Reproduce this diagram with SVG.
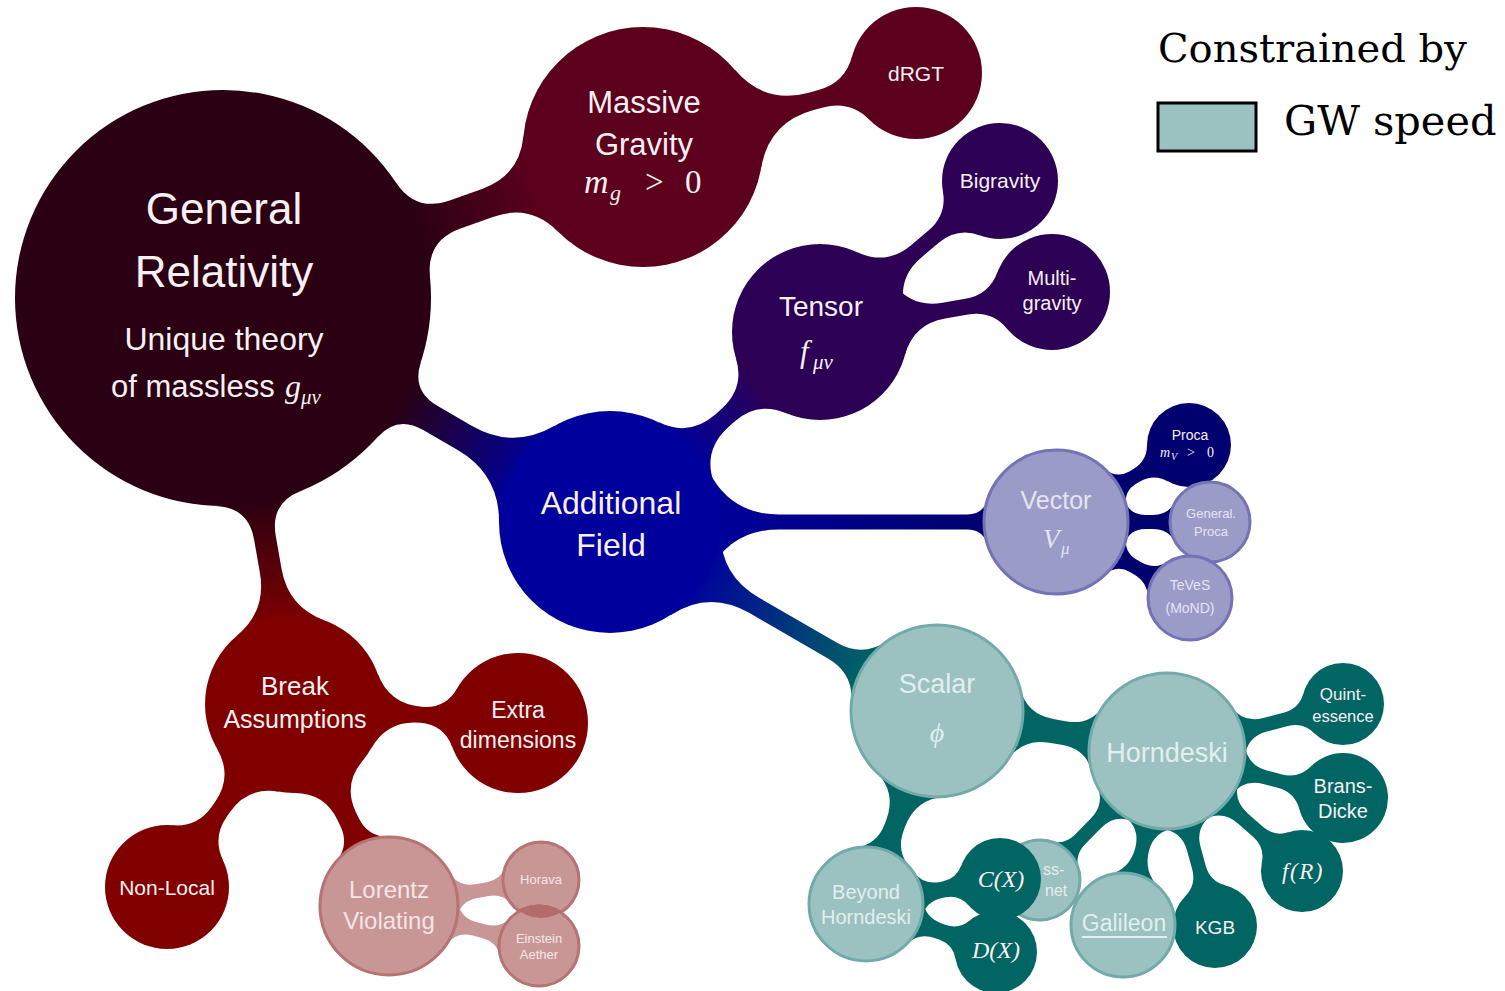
<svg xmlns="http://www.w3.org/2000/svg" width="1505" height="991" viewBox="0 0 1505 991">
<defs>
<style>
.s{font-family:"Liberation Sans",Arial,sans-serif;text-anchor:middle;fill:#f8f0f2}
.a{font-family:"Liberation Sans",Arial,sans-serif;fill:#f8f0f2}
.m{font-family:"Liberation Serif","Times New Roman",serif;font-style:italic;fill:#f8f0f2}
.u{font-family:"Liberation Serif","Times New Roman",serif;font-style:normal;fill:#f8f0f2}
.lt{fill:#e2efee}
.lv{fill:#e4e4f3}
.lr{fill:#f4e6e6}
.cT{fill:#9bc2c1;stroke:#72aaa9;stroke-width:3}
.cV{fill:#9b9bc7;stroke:#7373b5;stroke-width:3}
.cR{fill:#c99696;stroke:#b77272;stroke-width:3}
.leg{font-family:"DejaVu Serif",serif;fill:#000}
.kGR{fill:#2a0012}.kMG{fill:#5d001e}.kAF{fill:#00009c}.kT{fill:#2c0055}
.kN{fill:#00006e}.kS{fill:#006563}.kB{fill:#800000}.kL{fill:#c99696}
</style>
<linearGradient id="gGM"><stop offset="0" stop-color="#2a0012"/><stop offset="1" stop-color="#5d001e"/></linearGradient>
<linearGradient id="gGA"><stop offset="0" stop-color="#2a0012"/><stop offset="1" stop-color="#00009c"/></linearGradient>
<linearGradient id="gGB"><stop offset="0" stop-color="#2a0012"/><stop offset="1" stop-color="#800000"/></linearGradient>
<linearGradient id="gAT"><stop offset="0" stop-color="#00009c"/><stop offset="1" stop-color="#2c0055"/></linearGradient>
<linearGradient id="gAV"><stop offset="0" stop-color="#00009c"/><stop offset="1" stop-color="#00006e"/></linearGradient>
<linearGradient id="gAS"><stop offset="0" stop-color="#00009c"/><stop offset="1" stop-color="#006563"/></linearGradient>
<clipPath id="clipH"><circle cx="541" cy="880" r="38"/></clipPath>
</defs>
<rect width="1505" height="991" fill="#fff"/>

<g id="connectors">
<path fill="url(#gGM)" transform="translate(223,298) rotate(-19.78)" d="M201.8,-50.3 Q210.6,-15 247,-15 L281.4,-15 Q320.8,-15 337.5,-50.7 L337.5,50.7 Q320.8,15 281.4,15 L247,15 Q210.6,15 201.8,50.3 Z"/>
<path class="kMG" transform="translate(643,147) rotate(-15.17)" d="M108.8,-50.7 Q128.3,-9 174.3,-9 L184.2,-9 Q211.9,-9 225.7,-33 L225.7,33 Q211.9,9 184.2,9 L174.3,9 Q128.3,9 108.8,50.7 Z"/>
<path fill="url(#gGA)" transform="translate(223,298) rotate(30.06)" d="M203.5,-43.2 Q209.7,-14 239.5,-14 L279.2,-14 Q327.1,-14 351.1,-55.5 L351.1,55.5 Q327.1,14 279.2,14 L239.5,14 Q209.7,14 203.5,43.2 Z"/>
<path fill="url(#gGB)" transform="translate(223,298) rotate(80.08)" d="M203.5,-43.2 Q210.3,-11 243.2,-11 L277.1,-11 Q315.8,-11 335.1,-44.5 L335.1,44.5 Q315.8,11 277.1,11 L243.2,11 Q210.3,11 203.5,43.2 Z"/>
<path fill="url(#gAT)" transform="translate(610,522) rotate(-42.14)" d="M102.9,-41.6 Q116.1,-9 151.3,-9 L159.1,-9 Q190.2,-9 203.4,-37.2 L203.4,37.2 Q190.2,9 159.1,9 L151.3,9 Q116.1,9 102.9,41.6 Z"/>
<path class="kT" transform="translate(820,332) rotate(-40)" d="M79.8,-37.2 Q93.4,-8 125.6,-8 L148.3,-8 Q172.6,-8 184.8,-29 L184.8,29 Q172.6,8 148.3,8 L125.6,8 Q93.4,8 79.8,37.2 Z"/>
<path class="kT" transform="translate(820,332) rotate(-9.78)" d="M79.8,-37.2 Q93.4,-8 125.6,-8 L148.8,-8 Q173.1,-8 185.2,-29 L185.2,29 Q173.1,8 148.8,8 L125.6,8 Q93.4,8 79.8,37.2 Z"/>
<path fill="url(#gAV)" transform="translate(610,522)" d="M98.9,-50.4 Q120.7,-7.5 168.8,-7.5 L357.2,-7.5 Q372.7,-7.5 377.5,-22.2 L377.5,22.2 Q372.7,7.5 357.2,7.5 L168.8,7.5 Q120.7,7.5 98.9,50.4 Z"/>
<path fill="url(#gAS)" transform="translate(610,522) rotate(30.03)" d="M98.9,-50.4 Q120,-9 166.5,-9 L257,-9 Q287.1,-9 299.8,-36.3 L299.8,36.3 Q287.1,9 257,9 L166.5,9 Q120,9 98.9,50.4 Z"/>
<path class="kN" transform="translate(1056,522) rotate(-30.07)" d="M68.5,-22.2 Q73.4,-7 89.4,-7 L93,-7 Q109.2,-7 117.3,-21 L117.3,21 Q109.2,7 93,7 L89.4,7 Q73.4,7 68.5,22.2 Z"/>
<path class="kN" transform="translate(1056,522)" d="M68.5,-22.2 Q73.4,-7 89.4,-7 L96.9,-7 Q111.9,-7 119.4,-20 L119.4,20 Q111.9,7 96.9,7 L89.4,7 Q73.4,7 68.5,22.2 Z"/>
<path class="kN" transform="translate(1056,522) rotate(29.56)" d="M68.5,-22.2 Q73.4,-7 89.4,-7 L93.4,-7 Q109.6,-7 117.7,-21 L117.7,21 Q109.6,7 93.4,7 L89.4,7 Q73.4,7 68.5,22.2 Z"/>
<path class="kS" transform="translate(937,711) rotate(9.87)" d="M77.9,-36.3 Q89.2,-12 116,-12 L129.8,-12 Q153,-12 162.8,-33 L162.8,33 Q153,12 129.8,12 L116,12 Q89.2,12 77.9,36.3 Z"/>
<path class="kS" transform="translate(937,711) rotate(110.2)" d="M77.9,-36.3 Q90.2,-10 119.2,-10 L124.2,-10 Q145.5,-10 156.2,-28.5 L156.2,28.5 Q145.5,10 124.2,10 L119.2,10 Q90.2,10 77.9,36.3 Z"/>
<path class="kS" transform="translate(1167,751) rotate(-14.95)" d="M73.3,-26.7 Q80.5,-7 101.5,-7 L123.3,-7 Q138.9,-7 146.7,-20.5 L146.7,20.5 Q138.9,7 123.3,7 L101.5,7 Q80.5,7 73.3,26.7 Z"/>
<path class="kS" transform="translate(1167,751) rotate(14.95)" d="M73.3,-26.7 Q80.5,-7 101.5,-7 L116.4,-7 Q134.3,-7 143.2,-22.5 L143.2,22.5 Q134.3,7 116.4,7 L101.5,7 Q80.5,7 73.3,26.7 Z"/>
<path class="kS" transform="translate(1167,751) rotate(41.63)" d="M73.3,-26.7 Q80.5,-7 101.5,-7 L121.7,-7 Q137.3,-7 145.1,-20.5 L145.1,20.5 Q137.3,7 121.7,7 L101.5,7 Q80.5,7 73.3,26.7 Z"/>
<path class="kS" transform="translate(1167,751) rotate(74.66)" d="M73.3,-26.7 Q80.5,-7 101.5,-7 L120.8,-7 Q137,-7 145.1,-21 L145.1,21 Q137,7 120.8,7 L101.5,7 Q80.5,7 73.3,26.7 Z"/>
<path class="kS" transform="translate(1167,751) rotate(104.19)" d="M73.3,-26.7 Q80.5,-7 101.5,-7 L101.5,-7 Q123.5,-7 134.5,-26 L134.5,26 Q123.5,7 101.5,7 L101.5,7 Q80.5,7 73.3,26.7 Z"/>
<path class="kS" transform="translate(1167,751) rotate(134.55)" d="M73.3,-26.7 Q80.5,-7 101.5,-7 L123.9,-7 Q138.9,-7 146.4,-20 L146.4,20 Q138.9,7 123.9,7 L101.5,7 Q80.5,7 73.3,26.7 Z"/>
<path class="kS" transform="translate(866,904) rotate(-10.57)" d="M51.7,-24.1 Q59.2,-8 77,-8 L79.2,-8 Q93.6,-8 100.8,-20.5 L100.8,20.5 Q93.6,8 79.2,8 L77,8 Q59.2,8 51.7,24.1 Z"/>
<path class="kS" transform="translate(866,904) rotate(20.26)" d="M51.7,-24.1 Q59.2,-8 77,-8 L81.5,-8 Q95.9,-8 103.1,-20.5 L103.1,20.5 Q95.9,8 81.5,8 L77,8 Q59.2,8 51.7,24.1 Z"/>
<path class="kB" transform="translate(294,704) rotate(4.85)" d="M80.7,-37.6 Q94.5,-8 127.1,-8 L127.5,-8 Q151.3,-8 161.4,-29.6 L161.4,29.6 Q151.3,8 127.5,8 L127.1,8 Q94.5,8 80.7,37.6 Z"/>
<path class="kB" transform="translate(294,704) rotate(124.76)" d="M80.7,-37.6 Q94,-9 125.5,-9 L131,-9 Q156.4,-9 169.1,-31 L169.1,31 Q156.4,9 131,9 L125.5,9 Q94,9 80.7,37.6 Z"/>
<path class="kB" transform="translate(294,704) rotate(64.81)" d="M80.7,-37.6 Q93.6,-10 124,-10 L130.5,-10 Q151.7,-10 160.7,-29.2 L160.7,29.2 Q151.7,10 130.5,10 L124,10 Q93.6,10 80.7,37.6 Z"/>
<path class="kL" transform="translate(389,906) rotate(-9.71)" d="M64.8,-23.6 Q70.9,-7 88.6,-7 L100.5,-7 Q114.4,-7 121.3,-19 L121.3,19 Q114.4,7 100.5,7 L88.6,7 Q70.9,7 64.8,23.6 Z"/>
<path class="kL" transform="translate(389,906) rotate(14.93)" d="M64.8,-23.6 Q70.9,-7 88.6,-7 L98.1,-7 Q113.1,-7 120.6,-20 L120.6,20 Q113.1,7 98.1,7 L88.6,7 Q70.9,7 64.8,23.6 Z"/>
</g>

<g id="n-gr">
<circle cx="223" cy="298" r="208" class="kGR"/>
<text x="224" y="224" class="s" font-size="44">General</text>
<text x="224" y="287" class="s" font-size="44">Relativity</text>
<text x="224" y="350" class="s" font-size="32">Unique theory</text>
<text x="111" y="397" class="a" font-size="31">of massless</text>
<text x="285" y="397" class="m" font-size="32">g</text>
<text x="301" y="404" class="m" font-size="21">μν</text>
</g>

<g id="n-mg">
<circle cx="643" cy="147" r="120" class="kMG"/>
<text x="644" y="113" class="s" font-size="31">Massive</text>
<text x="644" y="155" class="s" font-size="31">Gravity</text>
<text x="584" y="193" class="m" font-size="34">m</text>
<text x="610" y="200" class="m" font-size="22">g</text>
<text x="645" y="193" class="u" font-size="33">&gt;</text>
<text x="685" y="193" class="u" font-size="33">0</text>
</g>

<g id="n-drgt">
<circle cx="916" cy="73" r="66" class="kMG"/>
<text x="916" y="81" class="s" font-size="21">dRGT</text>
</g>

<g id="n-af">
<circle cx="610" cy="522" r="111" class="kAF"/>
<text x="611" y="514" class="s" font-size="32">Additional</text>
<text x="611" y="556" class="s" font-size="32">Field</text>
</g>

<g id="n-tensor">
<circle cx="820" cy="332" r="88" class="kT"/>
<text x="821" y="316" class="s" font-size="28">Tensor</text>
<text x="800" y="362" class="m" font-size="31">f</text>
<text x="813" y="369" class="m" font-size="21">μν</text>
</g>

<g id="n-bigravity">
<circle cx="1000" cy="181" r="58" class="kT"/>
<text x="1000" y="188" class="s" font-size="21">Bigravity</text>
</g>

<g id="n-multigravity">
<circle cx="1052" cy="292" r="58" class="kT"/>
<text x="1052" y="285" class="s" font-size="20">Multi-</text>
<text x="1052" y="310" class="s" font-size="20">gravity</text>
</g>

<g id="n-vector">
<circle cx="1056" cy="522" r="72" class="cV"/>
<text x="1056" y="509" class="s lv" font-size="25">Vector</text>
<text x="1043" y="548" class="m lv" font-size="27">V</text>
<text x="1061" y="554" class="m lv" font-size="17">μ</text>
</g>

<g id="n-proca">
<circle cx="1189" cy="445" r="42" class="kN"/>
<text x="1190" y="440" class="s" font-size="14">Proca</text>
<text x="1160" y="457" class="m" font-size="14">m</text>
<text x="1171" y="460" class="m" font-size="10">V</text>
<text x="1187" y="457" class="u" font-size="14">&gt;</text>
<text x="1207" y="457" class="u" font-size="14">0</text>
</g>

<g id="n-genproca">
<circle cx="1210" cy="522" r="40" class="cV"/>
<text x="1211" y="518" class="s lv" font-size="13">General.</text>
<text x="1211" y="536" class="s lv" font-size="13">Proca</text>
</g>

<g id="n-teves">
<circle cx="1190" cy="598" r="42" class="cV"/>
<text x="1190" y="590" class="s lv" font-size="14">TeVeS</text>
<text x="1190" y="613" class="s lv" font-size="14">(MoND)</text>
</g>

<g id="n-scalar">
<circle cx="937" cy="711" r="86" class="cT"/>
<text x="937" y="693" class="s lt" font-size="27">Scalar</text>
<text x="937" y="742" class="m lt" font-size="28" text-anchor="middle">ϕ</text>
</g>

<g id="n-horndeski">
<circle cx="1167" cy="751" r="78" class="cT"/>
<text x="1167" y="762" class="s lt" font-size="27">Horndeski</text>
</g>

<g id="n-quintessence">
<circle cx="1343" cy="704" r="41" class="kS"/>
<text x="1343" y="700" class="s" font-size="17">Quint-</text>
<text x="1343" y="722" class="s" font-size="16.5">essence</text>
</g>

<g id="n-bransdicke">
<circle cx="1343" cy="798" r="45" class="kS"/>
<text x="1343" y="793" class="s" font-size="20">Brans-</text>
<text x="1343" y="818" class="s" font-size="20">Dicke</text>
</g>

<g id="n-fr">
<circle cx="1302" cy="871" r="41" class="kS"/>
<text x="1303" y="879" class="m" font-size="23" text-anchor="middle" letter-spacing="1.5">f(R)</text>
</g>

<g id="n-kgb">
<circle cx="1215" cy="926" r="42" class="kS"/>
<text x="1215" y="934" class="s" font-size="19">KGB</text>
</g>

<g id="n-gaussbonnet">
<circle cx="1040" cy="880" r="40" class="cT"/>
<text x="1043" y="875" class="a lt" font-size="16">ss-</text>
<text x="1045" y="896" class="a lt" font-size="16">net</text>
</g>

<g id="n-galileon">
<circle cx="1123" cy="925" r="52" class="cT"/>
<text x="1124" y="931" class="s lt" font-size="23">Galileon</text>
<line x1="1082" y1="937" x2="1167" y2="937" stroke="#e2efee" stroke-width="2"/>
</g>

<g id="n-cx">
<circle cx="1000" cy="879" r="41" class="kS"/>
<text x="1001" y="887" class="m" font-size="24" text-anchor="middle">C(X)</text>
</g>

<g id="n-dx">
<circle cx="996" cy="952" r="41" class="kS"/>
<text x="996" y="958" class="m" font-size="24" text-anchor="middle">D(X)</text>
</g>

<g id="n-beyond">
<circle cx="866" cy="904" r="57" class="cT"/>
<text x="866" y="899" class="s lt" font-size="20">Beyond</text>
<text x="866" y="924" class="s lt" font-size="20">Horndeski</text>
</g>

<g id="n-break">
<circle cx="294" cy="704" r="89" class="kB"/>
<text x="295" y="695" class="s" font-size="26">Break</text>
<text x="295" y="728" class="s" font-size="25">Assumptions</text>
</g>

<g id="n-extra">
<circle cx="518" cy="723" r="70" class="kB"/>
<text x="518" y="718" class="s" font-size="23">Extra</text>
<text x="518" y="748" class="s" font-size="23">dimensions</text>
</g>

<g id="n-nonlocal">
<circle cx="167" cy="887" r="62" class="kB"/>
<text x="167" y="895" class="s" font-size="21">Non-Local</text>
</g>

<g id="n-lorentz">
<circle cx="389" cy="906" r="69" class="cR"/>
<text x="389" y="898" class="s lr" font-size="24">Lorentz</text>
<text x="389" y="929" class="s lr" font-size="24">Violating</text>
</g>

<g id="n-horava">
<circle cx="541" cy="880" r="38" class="cR"/>
<text x="541" y="884" class="s lr" font-size="13">Horava</text>
</g>

<g id="n-aether">
<circle cx="539" cy="946" r="40" class="cR"/>
<circle cx="539" cy="946" r="41.5" fill="#b36b6b" clip-path="url(#clipH)"/>
<text x="539" y="943" class="s lr" font-size="13">Einstein</text>
<text x="539" y="959" class="s lr" font-size="13">Aether</text>
</g>

<g id="legend">
<text x="1158" y="62" class="leg" font-size="40">Constrained by</text>
<rect x="1158" y="103" width="98" height="48" fill="#9bc2c1" stroke="#000" stroke-width="3"/>
<text x="1284" y="135" class="leg" font-size="41.5">GW speed</text>
</g>
</svg>
